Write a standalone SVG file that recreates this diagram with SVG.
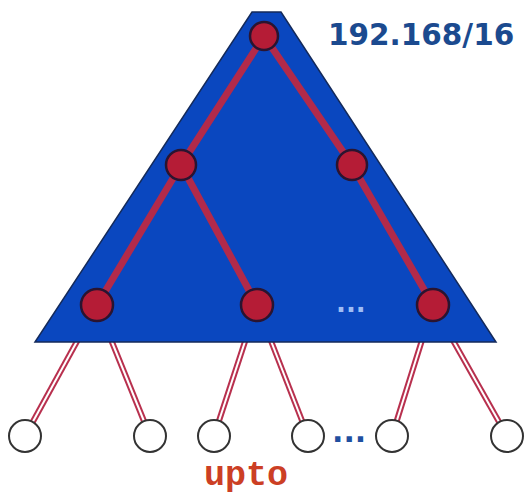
<svg xmlns="http://www.w3.org/2000/svg" width="526" height="498" viewBox="0 0 526 498">
<style>
.dl-o{stroke:#b8304e;stroke-width:6;fill:none}
.dl-i{stroke:#ffffff;stroke-width:2;fill:none}
.edge{stroke:#b22a4a;stroke-width:7;fill:none;stroke-linecap:round}
.rn{fill:#b51c36;stroke:#2a1430;stroke-width:2.5}
.leaf{fill:#ffffff;stroke:#333333;stroke-width:2}
</style>
<rect width="526" height="498" fill="#ffffff"/>
<g id="connectors-leaf">
<g class="dl-o">
<line x1="97" y1="305" x2="25" y2="436"/>
<line x1="97" y1="305" x2="150" y2="436"/>
<line x1="257" y1="305" x2="214" y2="436"/>
<line x1="257" y1="305" x2="308" y2="436"/>
<line x1="433" y1="305" x2="392" y2="436"/>
<line x1="433" y1="305" x2="507" y2="436"/>
</g>
<g class="dl-i">
<line x1="97" y1="305" x2="25" y2="436"/>
<line x1="97" y1="305" x2="150" y2="436"/>
<line x1="257" y1="305" x2="214" y2="436"/>
<line x1="257" y1="305" x2="308" y2="436"/>
<line x1="433" y1="305" x2="392" y2="436"/>
<line x1="433" y1="305" x2="507" y2="436"/>
</g>
</g>
<g id="network">
<polygon points="252,12 281,12 496,342 35,342" fill="#0a47bf" stroke="#142a5a" stroke-width="1.5"/>
<text x="336" y="312" font-family="DejaVu Sans, sans-serif" font-weight="bold" font-size="26" fill="#9fbdf5">...</text>
</g>
<g id="connectors">
<line class="edge" x1="264" y1="36" x2="181" y2="165"/>
<line class="edge" x1="264" y1="36" x2="352" y2="165"/>
<line class="edge" x1="181" y1="165" x2="97" y2="305"/>
<line class="edge" x1="181" y1="165" x2="257" y2="305"/>
<line class="edge" x1="352" y1="165" x2="433" y2="305"/>
</g>
<g id="r0"><circle class="rn" cx="264" cy="36" r="14"/></g>
<g id="r1"><circle class="rn" cx="181" cy="165" r="15"/></g>
<g id="r2"><circle class="rn" cx="352" cy="165" r="15"/></g>
<g id="r3"><circle class="rn" cx="97" cy="305" r="16"/></g>
<g id="r4"><circle class="rn" cx="257" cy="305" r="16"/></g>
<g id="r5"><circle class="rn" cx="433" cy="305" r="16"/></g>
<g id="h1"><circle class="leaf" cx="25" cy="436" r="16"/></g>
<g id="h2"><circle class="leaf" cx="150" cy="436" r="16"/></g>
<g id="h3"><circle class="leaf" cx="214" cy="436" r="16"/></g>
<g id="h4"><circle class="leaf" cx="308" cy="436" r="16"/></g>
<g id="h5"><circle class="leaf" cx="392" cy="436" r="16"/></g>
<g id="h6"><circle class="leaf" cx="507" cy="436" r="16"/></g>
<text x="332" y="442" font-family="DejaVu Sans, sans-serif" font-weight="bold" font-size="30" fill="#1f4fa0">...</text>
<text x="328" y="45" font-family="DejaVu Sans, sans-serif" font-weight="bold" font-size="29.5" fill="#1b4a8f">192.168/16</text>
<text x="204" y="485" font-family="Liberation Mono, Courier New, monospace" font-weight="bold" font-size="35" fill="#cc3f25">upto</text>
</svg>
